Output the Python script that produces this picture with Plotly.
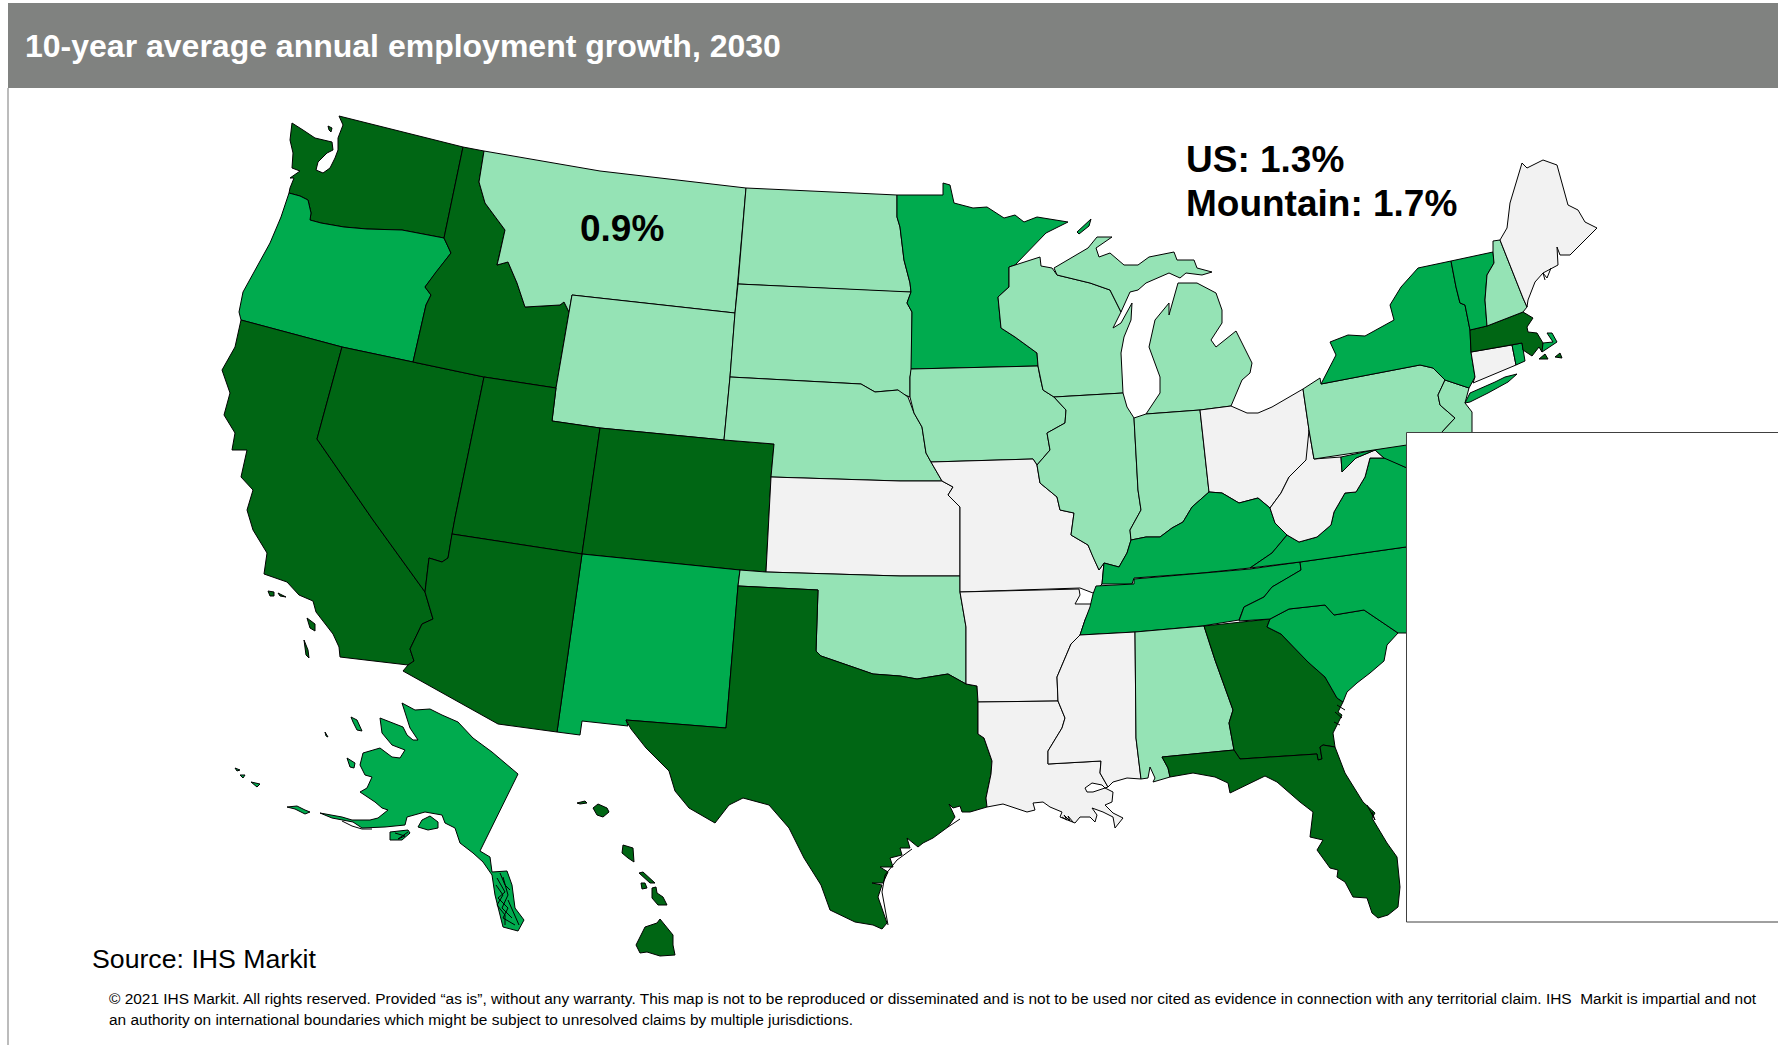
import plotly.graph_objects as go

# Growth class of each state
CLASS_COLORS = ["#F2F2F2", "#95E3B5", "#00AB4E", "#006614"]
CLASS_OF = {
    "WA": 3, "OR": 2, "CA": 3, "NV": 3, "ID": 3, "UT": 3, "AZ": 3, "CO": 3, "NM": 2, "MT": 1, "WY": 1,
    "ND": 1, "SD": 1, "NE": 1, "KS": 0, "OK": 1, "TX": 3, "MN": 2, "IA": 1, "MO": 0, "AR": 0, "LA": 0,
    "WI": 1, "IL": 1, "MI": 1, "IN": 1, "OH": 0, "KY": 2, "TN": 2, "MS": 0, "AL": 1, "GA": 3, "FL": 3,
    "SC": 2, "NC": 2, "VA": 2, "WV": 0, "MD": 2, "PA": 1, "NJ": 1, "NY": 2, "CT": 0, "RI": 2, "MA": 3,
    "CAPE": 2, "VT": 2, "NH": 1, "ME": 0, "AK": 2, "HI": 3,
}

# State outlines (map units), one list per landmass
WA = [[(339,116),(463,147),(444,238),(402,230),(367,229),(344,227),(321,223),(310,220),(311,213),(308,200),(300,196),(289,193),(290,188),(294,178),(290,178),(300,171),(292,168),(293,153),(290,140),(292,123),(303,130),(315,138),(332,142),(333,150),(327,153),(318,162),(316,170),(323,173),(330,168),(335,158),(338,150),(338,138),(343,125)],
      [(328,126),(332,128),(331,132),(329,130)]]
OR = [[(289,193),(300,196),(308,200),(311,213),(310,220),(321,223),(344,227),(367,229),(402,230),(444,238),(451,253),(436,272),(425,287),(431,295),(426,305),(413,362),(342,347),(241,320),(239,312),(243,292),(255,270),(270,243),(281,217)]]
CA = [[(241,320),(342,347),(317,439),(373,520),(425,592),(433,619),(422,624),(410,649),(414,661),(408,665),(340,657),(339,647),(333,634),(316,612),(313,601),(299,595),(287,582),(264,574),(267,553),(253,530),(247,510),(253,490),(241,477),(247,450),(232,450),(235,433),(224,415),(230,393),(222,370),(235,347)],
      [(268,591),(274,592),(274,596),(270,596)],[(278,593),(286,597),(280,596)],[(307,618),(315,624),(315,631),(310,628)],[(304,640),(308,650),(309,658),(306,655)]]
NV = [[(342,347),(413,362),(484,377),(455,518),(452,534),(448,558),(442,562),(429,558),(425,592),(373,520),(317,439)]]
ID = [[(463,147),(484,151),(479,182),(485,203),(505,230),(499,257),(497,265),(508,262),(517,283),(525,307),(560,305),(564,302),(569,312),(556,388),(484,377),(413,362),(426,305),(431,295),(425,287),(436,272),(451,253),(444,238)]]
MT = [[(484,151),(600,171),(746,188),(738,284),(735,313),(572,295),(569,312),(564,302),(560,305),(525,307),(517,283),(508,262),(497,265),(499,257),(505,230),(485,203),(479,182)]]
WY = [[(572,295),(735,313),(730,377),(724,440),(600,428),(552,421),(556,388),(569,312)]]
UT = [[(484,377),(556,388),(552,421),(600,428),(587,520),(582,554),(452,534),(455,518)]]
CO = [[(600,428),(724,440),(774,444),(771,477),(766,572),(740,570),(582,554),(587,520)]]
NM = [[(582,554),(740,570),(738,586),(726,728),(626,720),(628,726),(582,721),(580,735),(557,732)]]
AZ = [[(452,534),(582,554),(557,732),(498,724),(403,671),(408,665),(414,661),(410,649),(422,624),(433,619),(425,592),(429,558),(442,562),(448,558)]]
ND = [[(746,188),(897,195),(897,217),(900,227),(904,260),(910,283),(911,292),(900,292),(738,284)]]
SD = [[(738,284),(900,292),(911,292),(907,303),(912,312),(912,368),(910,377),(910,397),(900,393),(898,390),(875,392),(861,384),(730,377),(735,313)]]
NE = [[(730,377),(861,384),(875,392),(898,390),(908,397),(914,413),(922,427),(926,453),(931,462),(942,481),(900,481),(771,477),(774,444),(724,440)]]
KS = [[(771,477),(900,481),(942,481),(953,487),(948,495),(960,507),(960,576),(900,576),(766,572)]]
OK = [[(740,570),(766,572),(900,576),(960,576),(960,592),(966,627),(966,684),(948,674),(917,679),(900,676),(873,674),(850,666),(821,656),(816,651),(818,590),(738,586)]]
TX = [[(738,586),(818,590),(816,651),(821,656),(850,666),(873,674),(900,676),(917,679),(948,674),(966,684),(977,686),(978,702),(978,734),(984,738),(992,761),(991,774),(986,798),(987,807),(970,812),(962,812),(960,806),(953,808),(949,804),(955,817),(948,827),(933,838),(923,843),(918,847),(907,838),(910,848),(900,848),(902,855),(890,858),(893,867),(880,867),(888,872),(883,883),(872,883),(882,885),(878,897),(887,923),(882,929),(873,925),(855,922),(830,910),(821,885),(804,858),(789,828),(769,805),(743,798),(729,805),(715,823),(689,808),(675,791),(669,771),(646,748),(631,729),(626,720),(726,728)]]
MN = [[(897,195),(943,195),(943,183),(950,185),(954,203),(973,208),(987,207),(1004,218),(1015,215),(1024,222),(1037,217),(1068,222),(1046,233),(1026,253),(1015,265),(1009,267),(1009,287),(998,297),(1001,328),(1015,337),(1037,353),(1038,366),(911,369),(912,312),(907,303),(911,292),(910,283),(904,260),(900,227),(897,217)],
      [(1077,232),(1091,219),(1089,226),(1079,234)]]
IA = [[(911,369),(1038,366),(1040,377),(1043,390),(1054,397),(1066,410),(1065,423),(1047,433),(1050,450),(1037,465),(1033,459),(931,462),(926,453),(922,427),(914,413),(910,397),(910,377)]]
MO = [[(931,462),(1033,459),(1037,465),(1040,483),(1057,497),(1060,510),(1074,513),(1071,535),(1088,545),(1093,557),(1099,570),(1104,563),(1102,584),(1093,593),(1080,588),(960,592),(960,507),(948,495),(953,487),(942,481)]]
AR = [[(960,592),(1079,589),(1080,595),(1075,604),(1093,604),(1085,620),(1080,635),(1071,644),(1057,677),(1058,701),(978,702),(977,686),(966,684),(966,627)]]
LA = [[(978,702),(1058,701),(1065,718),(1062,728),(1048,751),(1048,764),(1101,761),(1100,773),(1108,787),(1105,788),(1113,792),(1112,802),(1105,805),(1113,813),(1123,818),(1115,828),(1113,817),(1103,812),(1092,808),(1097,815),(1095,822),(1090,817),(1080,817),(1075,823),(1060,817),(1062,812),(1050,807),(1043,802),(1033,803),(1035,810),(1027,812),(1003,804),(987,807),(986,798),(991,774),(992,761),(984,738),(978,734)]]
WI = [[(1009,267),(1040,257),(1041,266),(1052,268),(1057,275),(1090,283),(1110,290),(1116,302),(1121,312),(1113,328),(1121,323),(1132,303),(1131,320),(1124,337),(1121,353),(1123,393),(1054,397),(1043,390),(1040,377),(1038,366),(1037,353),(1015,337),(1001,328),(998,297),(1009,287)]]
MI = [[(1054,268),(1068,260),(1088,248),(1097,237),(1112,237),(1096,248),(1099,257),(1110,253),(1124,265),(1138,265),(1149,257),(1174,252),(1177,260),(1194,260),(1197,268),(1212,272),(1202,275),(1186,273),(1180,278),(1169,273),(1146,283),(1138,290),(1130,292),(1121,312),(1116,302),(1110,290),(1090,283),(1057,275)],
      [(1178,283),(1197,283),(1216,293),(1222,310),(1222,323),(1211,340),(1216,347),(1236,331),(1244,347),(1252,363),(1250,373),(1242,380),(1231,406),(1200,410),(1146,414),(1160,393),(1160,377),(1149,347),(1155,320),(1169,303),(1169,315),(1174,297)]]
IL = [[(1054,397),(1123,393),(1127,407),(1134,418),(1138,490),(1141,510),(1130,530),(1131,540),(1127,553),(1119,567),(1104,563),(1099,570),(1093,557),(1088,545),(1071,535),(1074,513),(1060,510),(1057,497),(1040,483),(1037,465),(1050,450),(1047,433),(1065,423),(1066,410)]]
IN = [[(1134,418),(1146,414),(1200,410),(1209,492),(1192,507),(1183,522),(1172,528),(1160,537),(1146,537),(1131,540),(1130,530),(1141,510),(1138,490)]]
OH = [[(1200,410),(1231,406),(1247,413),(1258,413),(1272,407),(1303,389),(1309,430),(1314,459),(1306,460),(1289,477),(1281,493),(1270,508),(1258,498),(1239,503),(1222,493),(1209,492)]]
KY = [[(1209,492),(1222,493),(1239,503),(1258,498),(1270,508),(1275,523),(1287,535),(1272,553),(1250,568),(1202,573),(1134,578),(1132,584),(1102,584),(1104,563),(1119,567),(1127,553),(1131,540),(1146,537),(1160,537),(1172,528),(1183,522),(1192,507)]]
TN = [[(1096,586),(1134,584),(1134,579),(1202,573),(1250,569),(1300,562),(1301,570),(1286,579),(1272,587),(1264,597),(1244,607),(1239,620),(1202,626),(1135,632),(1080,635),(1085,620),(1090,607),(1093,594)]]
MS = [[(1080,635),(1135,632),(1136,738),(1141,779),(1127,778),(1113,782),(1108,787),(1100,773),(1101,761),(1048,764),(1048,751),(1062,728),(1065,718),(1058,701),(1057,677),(1071,644)]]
AL = [[(1135,632),(1204,626),(1215,660),(1230,702),(1233,710),(1229,723),(1234,750),(1162,757),(1168,768),(1170,777),(1158,781),(1153,782),(1155,778),(1150,767),(1148,778),(1141,779),(1136,738)]]
GA = [[(1204,626),(1270,619),(1267,627),(1281,634),(1308,662),(1325,677),(1337,698),(1343,702),(1338,712),(1342,715),(1333,733),(1335,747),(1323,745),(1320,747),(1322,759),(1318,760),(1317,754),(1240,759),(1234,750),(1229,723),(1233,710),(1230,702),(1215,660)]]
FL = [[(1162,757),(1234,750),(1240,759),(1317,754),(1318,760),(1322,759),(1320,747),(1323,745),(1335,747),(1345,773),(1363,802),(1375,813),(1372,818),(1387,843),(1397,857),(1400,887),(1398,907),(1388,915),(1378,918),(1372,913),(1367,898),(1353,897),(1345,882),(1337,877),(1338,870),(1330,868),(1317,850),(1323,840),(1310,837),(1313,812),(1300,802),(1288,792),(1277,782),(1265,776),(1257,780),(1230,793),(1228,783),(1215,777),(1193,773),(1170,777),(1168,768)]]
SC = [[(1270,619),(1289,609),(1325,605),(1334,615),(1364,610),(1398,633),(1387,645),(1384,661),(1370,673),(1357,683),(1347,692),(1343,702),(1337,698),(1325,677),(1308,662),(1281,634),(1267,627)]]
NC = [[(1300,562),(1420,545),(1420,633),(1398,633),(1364,610),(1334,615),(1325,605),(1289,609),(1270,619),(1239,621),(1244,607),(1264,597),(1272,587),(1286,579),(1301,570)]]
VA = [[(1250,568),(1272,553),(1287,535),(1299,542),(1317,537),(1331,525),(1334,512),(1345,493),(1356,492),(1365,477),(1370,458),(1386,458),(1407,468),(1420,470),(1420,545),(1300,562)]]
WV = [[(1309,430),(1314,459),(1341,457),(1342,472),(1356,458),(1368,453),(1375,450),(1384,458),(1370,458),(1365,477),(1356,492),(1345,493),(1334,512),(1331,525),(1317,537),(1299,542),(1287,535),(1275,523),(1270,508),(1281,493),(1289,477),(1306,460)]]
MD = [[(1341,457),(1420,440),(1420,470),(1407,468),(1384,458),(1375,450),(1368,453),(1356,458),(1342,472)]]
PA = [[(1303,389),(1320,378),(1321,384),(1420,365),(1433,368),(1445,380),(1438,395),(1440,405),(1455,418),(1442,432),(1440,440),(1314,459),(1309,430)]]
NJ = [[(1445,380),(1469,388),(1465,403),(1472,412),(1472,445),(1440,440),(1442,432),(1455,418),(1440,405),(1438,395)]]
NY = [[(1321,384),(1336,355),(1330,342),(1348,335),(1365,336),(1394,320),(1390,305),(1401,287),(1418,268),(1451,261),(1456,287),(1460,303),(1465,305),(1470,330),(1471,352),(1475,377),(1469,388),(1445,380),(1433,368),(1420,365)],
      [(1465,403),(1470,393),(1495,382),(1505,377),(1517,374),(1508,382),(1488,393),(1470,402)]]
CT = [[(1471,352),(1512,345),(1516,365),(1473,383),(1475,377)]]
RI = [[(1512,345),(1522,343),(1525,361),(1516,365)]]
MA = [[(1470,330),(1487,326),(1523,312),(1533,318),(1527,327),(1528,332),(1537,333),(1543,343),(1542,352),(1539,347),(1532,356),(1523,350),(1522,343),(1471,352)],
      [(1539,359),(1545,354),(1548,359)],[(1555,357),(1560,353),(1562,358)]]
CAPE = [[(1543,343),(1553,342),(1547,333),(1552,333),(1557,342),(1542,352)]]
VT = [[(1451,261),(1493,252),(1494,263),(1487,275),(1485,300),(1487,326),(1470,330),(1465,305),(1460,303),(1456,287)]]
NH = [[(1493,241),(1500,240),(1523,298),(1527,307),(1523,312),(1487,326),(1485,300),(1487,275),(1494,263),(1493,252)]]
ME = [[(1500,240),(1507,228),(1510,203),(1522,163),(1527,168),(1543,160),(1557,165),(1568,205),(1578,210),(1585,222),(1597,228),(1590,235),(1577,247),(1570,255),(1560,255),(1557,247),(1558,265),(1543,273),(1535,282),(1528,300),(1527,307),(1523,298)]]
AK = [[(402,703),(415,710),(430,709),(442,715),(458,722),(473,738),(492,752),(518,774),(480,851),(490,857),(492,872),(507,871),(512,885),(515,908),(524,920),(518,931),(503,927),(495,895),(492,875),(483,862),(473,853),(460,843),(455,828),(445,823),(442,815),(425,812),(407,817),(405,825),(385,827),(362,828),(353,822),(342,820),(332,818),(320,813),(342,817),(352,820),(370,820),(378,818),(388,810),(382,808),(375,802),(360,792),(367,788),(372,777),(365,775),(360,765),(363,753),(380,748),(392,757),(400,758),(405,750),(392,745),(382,733),(380,718),(403,727),(407,735),(413,740),(418,740),(410,728)],
      [(418,827),(422,820),(430,816),(438,822),(438,828),(428,830)],
      [(287,807),(297,806),(305,810),(310,812),(305,814),(295,809)],[(390,832),(408,830),(410,833),(402,840),(390,840)],
      [(351,717),(357,720),(362,731),(357,730),(353,722)],[(325,732),(328,737),(326,736)],[(347,758),(355,763),(354,768),(350,767)],
      [(235,768),(240,770),(237,771)],[(240,775),(245,775),(243,778)],[(251,782),(260,784),(257,787)]]
HI = [[(577,803),(585,801),(587,803),(580,804)],[(593,808),(598,804),(607,808),(609,812),(603,817),(597,815)],
      [(623,845),(633,848),(634,862),(628,858),(622,853)],[(639,873),(643,872),(655,883),(650,883)],[(641,883),(645,883),(647,888),(642,889)],
      [(652,888),(656,887),(657,893),(663,897),(667,905),(658,905),(652,898)],
      [(660,919),(673,935),(673,945),(675,955),(660,956),(647,952),(640,953),(636,945),(645,927),(657,923)]]
LAKE_PONTCHARTRAIN = [[(1085,788),(1092,783),(1102,785),(1105,788),(1093,792),(1087,792)]]
# Fine inlets and barrier islands
INLETS = [
    [(497,878),(505,892),(498,898),(508,908),(503,918),(515,925)],[(503,877),(508,895),(502,908),(512,918)],[(496,885),(503,895),(497,905),(505,915),(505,925)],
    [(500,873),(505,885),(510,890)],[(508,900),(513,912),(519,925)],[(342,821),(352,826),(362,829),(372,829)],[(395,833),(405,836),(398,839),(408,832)],
    [(888,925),(882,892),(885,875),(897,860),(912,849)],[(948,827),(960,819)],[(1062,817),(1067,820),(1064,815),(1070,821),(1068,816),(1073,822)],
    [(1337,705),(1345,710)],[(1335,712),(1342,718)],[(1334,722),(1340,725)],[(1367,805),(1375,820),(1372,812)],[(1551,268),(1547,278),(1543,273),(1545,280)],
]

OUTLINES = dict(WA=WA, OR=OR, CA=CA, NV=NV, ID=ID, MT=MT, WY=WY, UT=UT, CO=CO, NM=NM, AZ=AZ, ND=ND, SD=SD, NE=NE, KS=KS, OK=OK, TX=TX,
    MN=MN, IA=IA, MO=MO, AR=AR, LA=LA, WI=WI, MI=MI, IL=IL, IN=IN, OH=OH, KY=KY, TN=TN, MS=MS, AL=AL, GA=GA, FL=FL, SC=SC, NC=NC, VA=VA,
    WV=WV, MD=MD, PA=PA, NJ=NJ, NY=NY, CT=CT, RI=RI, MA=MA, CAPE=CAPE, VT=VT, NH=NH, ME=ME, AK=AK, HI=HI)

TITLE = "10-year average annual employment growth, 2030"
CALLOUT_US = "US: 1.3%"
CALLOUT_MOUNTAIN = "Mountain: 1.7%"
CALLOUT_MT = "0.9%"
SOURCE = "Source: IHS Markit"
NOTE_1 = "© 2021 IHS Markit. All rights reserved. Provided “as is”, without any warranty. This map is not to be reproduced or disseminated and is not to be used nor cited as evidence in connection with any territorial claim. IHS  Markit is impartial and not"
NOTE_2 = "an authority on international boundaries which might be subject to unresolved claims by multiple jurisdictions."

FONT = "Liberation Sans, Arial, sans-serif"

def flatten(parts, close=True):
    xs, ys = [], []
    for p in parts:
        xs += [q[0] for q in p] + ([p[0][0]] if close else []) + [None]
        ys += [q[1] for q in p] + ([p[0][1]] if close else []) + [None]
    return xs, ys

fig = go.Figure()
for st, parts in OUTLINES.items():
    xs, ys = flatten(parts)
    fig.add_trace(go.Scatter(x=xs, y=ys, mode="lines", fill="toself", name=st,
                             fillcolor=CLASS_COLORS[CLASS_OF[st]], line=dict(color="black", width=1),
                             hoverinfo="name", showlegend=False))
xs, ys = flatten(LAKE_PONTCHARTRAIN)
fig.add_trace(go.Scatter(x=xs, y=ys, mode="lines", fill="toself", fillcolor="white", line=dict(color="black", width=1), hoverinfo="skip", showlegend=False))
xs, ys = flatten(INLETS, close=False)
fig.add_trace(go.Scatter(x=xs, y=ys, mode="lines", line=dict(color="black", width=1), hoverinfo="skip", showlegend=False))

def label(x, y, text, size, color="black", bold=False):
    fig.add_annotation(x=x, y=y, text=f"<b>{text}</b>" if bold else text, showarrow=False, xanchor="left", yanchor="middle",
                       align="left", font=dict(family=FONT, size=size, color=color))

fig.add_shape(type="rect", x0=8, x1=1778, y0=3, y1=88, fillcolor="#808280", line_width=0, layer="above")
fig.add_shape(type="line", x0=8, x1=8, y0=88, y1=1045, line=dict(color="#A6A6A6", width=1.5), layer="above")
fig.add_shape(type="rect", x0=1406.5, x1=1790, y0=432.5, y1=922, fillcolor="white", line=dict(color="#404040", width=1), layer="above")
label(23, 46, TITLE, 32, "white", True)
label(1184, 159, CALLOUT_US, 37, bold=True)
label(1184, 203, CALLOUT_MOUNTAIN, 37, bold=True)
label(578, 228, CALLOUT_MT, 37, bold=True)
label(90, 959, SOURCE, 26.7)
label(107, 998, NOTE_1, 15.45)
label(107, 1019, NOTE_2, 15.45)

fig.update_xaxes(range=[0, 1778], visible=False, fixedrange=True)
fig.update_yaxes(range=[1045, 0], visible=False, fixedrange=True)
fig.update_layout(width=1778, height=1045, margin=dict(l=0, r=0, t=0, b=0), paper_bgcolor="white", plot_bgcolor="white")
fig.write_html("out.html", config={"displayModeBar": False}, post_script="document.body.style.margin='0';")
